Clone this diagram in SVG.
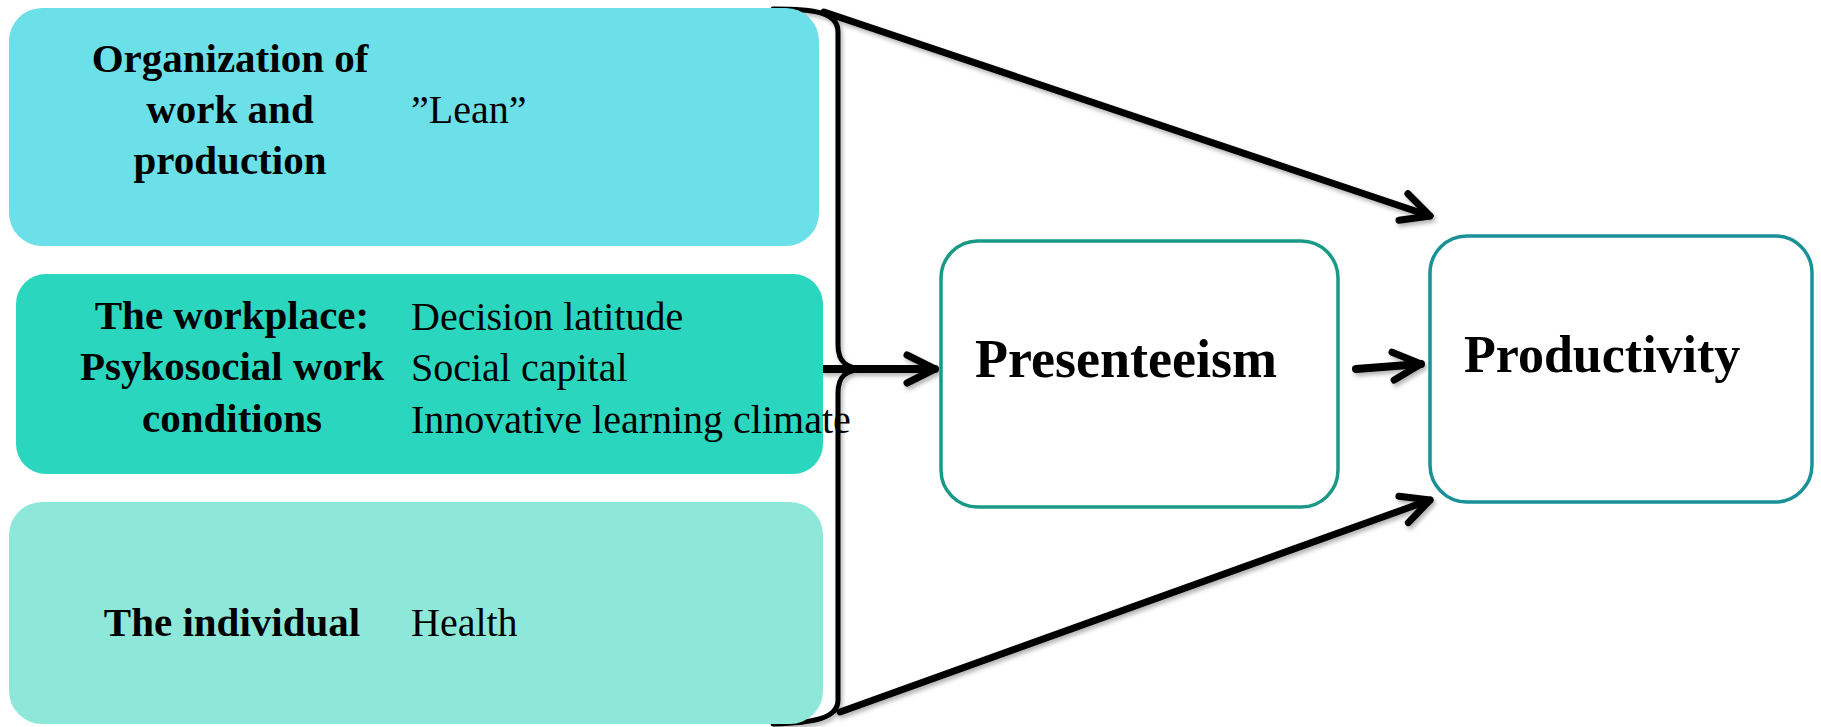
<svg xmlns="http://www.w3.org/2000/svg" width="1821" height="727" viewBox="0 0 1821 727">
  <defs>
    <style>
      .bold { font-family: "Liberation Serif", "Times New Roman", serif; font-weight: bold; font-size: 41px; fill: #000; }
      .reg { font-family: "Liberation Serif", "Times New Roman", serif; font-size: 40px; fill: #000; }
      .big { font-family: "Liberation Serif", "Times New Roman", serif; font-weight: bold; font-size: 52px; fill: #000; }
      .conn { fill: none; stroke: #000; stroke-width: 7; stroke-linecap: round; stroke-linejoin: round; }
      .brace { fill: none; stroke: #000; stroke-width: 5; stroke-linecap: round; stroke-linejoin: round; }
      .outbox { fill: #fff; stroke-width: 3.5; }
    </style>
    <filter id="sh" x="-10%" y="-10%" width="120%" height="130%">
      <feDropShadow dx="2" dy="3" stdDeviation="2" flood-color="#000" flood-opacity="0.3"/>
    </filter>
    <marker id="chev" markerUnits="userSpaceOnUse" orient="auto" markerWidth="60" markerHeight="60" refX="0" refY="0" overflow="visible">
      <path d="M -28 -14 L 0 0 L -28 14" fill="none" stroke="#000" stroke-width="7" stroke-linecap="round" stroke-linejoin="round"/>
    </marker>
  </defs>
  <rect width="1821" height="727" fill="#fff"/>

  <g id="connectors" filter="url(#sh)">
    <path class="brace" d="M 773 9 C 815 9, 838 12, 838 32 L 838 345 C 838 362, 846 368, 864 369 C 846 370, 838 376, 838 393 L 838 700 C 838 718, 815 723, 773 724"/>
    <path class="conn" d="M 824 12 L 1430 216" marker-end="url(#chev)"/>
    <path class="conn" d="M 840 712 L 1430 500" marker-end="url(#chev)"/>
    <path class="conn" style="stroke-width:8" d="M 823 369 L 935 369" marker-end="url(#chev)"/>
    <path class="conn" style="stroke-width:8" d="M 1356 369 L 1421 364" marker-end="url(#chev)"/>
  </g>

  <g id="organization">
    <rect x="9" y="8" width="810" height="238" rx="33" ry="33" fill="#6BE0E9"/>
    <text class="bold" x="230" y="72" text-anchor="middle">Organization of</text>
    <text class="bold" x="230" y="123" text-anchor="middle">work and</text>
    <text class="bold" x="230" y="174" text-anchor="middle">production</text>
    <text class="reg" x="411" y="123">”Lean”</text>
  </g>

  <g id="workplace">
    <rect x="16" y="274" width="807" height="200" rx="30" ry="30" fill="#2BD6BE"/>
    <text class="bold" x="232" y="329" text-anchor="middle">The workplace:</text>
    <text class="bold" x="232" y="380" text-anchor="middle">Psykosocial work</text>
    <text class="bold" x="232" y="432" text-anchor="middle">conditions</text>
    <text class="reg" x="411" y="330">Decision latitude</text>
    <text class="reg" x="411" y="381">Social capital</text>
    <text class="reg" x="411" y="433">Innovative learning climate</text>
  </g>

  <g id="individual">
    <rect x="9" y="502" width="814" height="222" rx="33" ry="33" fill="#8EE8DA"/>
    <text class="bold" x="232" y="636" text-anchor="middle">The individual</text>
    <text class="reg" x="411" y="636">Health</text>
  </g>

  <g id="presenteeism">
    <rect class="outbox" x="941" y="241" width="397" height="266" rx="37" ry="37" stroke="#1A9A86"/>
    <text class="big" x="975" y="377" style="font-size:54px">Presenteeism</text>
  </g>

  <g id="productivity">
    <rect class="outbox" x="1430" y="236" width="382" height="266" rx="37" ry="37" stroke="#1A9098"/>
    <text class="big" x="1464" y="372">Productivity</text>
  </g>
</svg>
